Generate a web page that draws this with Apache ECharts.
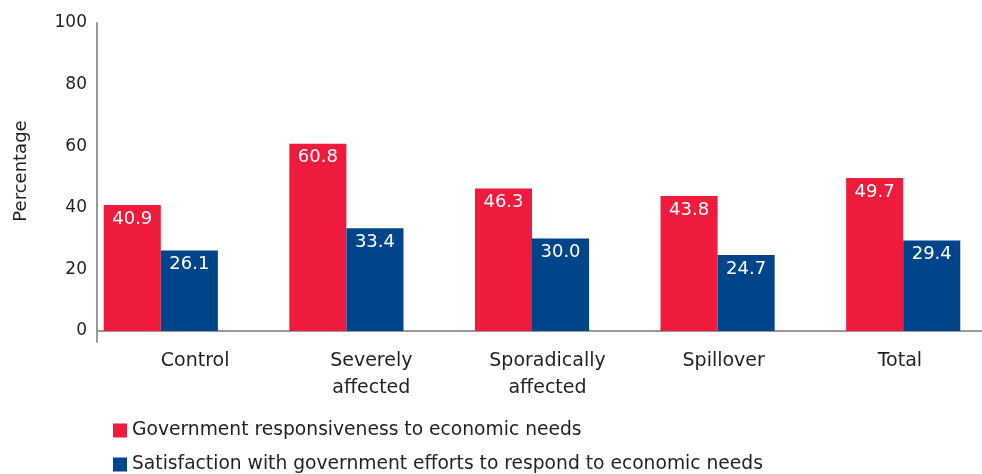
<!DOCTYPE html>
<html><head><meta charset="utf-8">
<script src="https://cdn.jsdelivr.net/npm/echarts@6/dist/echarts.min.js"></script>
<style>html,body{margin:0;padding:0;background:#fff}#c{width:982px;height:474px}</style>
</head><body><div id="c"></div>
<script>
const categories = ['Control', 'Severely\naffected', 'Sporadically\naffected', 'Spillover', 'Total'];
const seriesNames = ['Government responsiveness to economic needs', 'Satisfaction with government efforts to respond to economic needs'];
const responsiveness = [40.9, 60.8, 46.3, 43.8, 49.7];
const satisfaction = [26.1, 33.4, 30.0, 24.7, 29.4];
const yTicks = [0, 20, 40, 60, 80, 100];

const FONT = '"DejaVu Sans"';
const TXT = '#231f20';
const chart = echarts.init(document.getElementById('c'));
const lbl = {show: true, position: 'insideTop', distance: 5, color: '#fff', fontSize: 18, fontFamily: FONT, formatter: p => p.value.toFixed(1)};
const hiddenY = {type: 'value', show: false, min: 0, max: 100};
chart.setOption({
  animation: false,
  textStyle: {fontFamily: FONT},
  grid: [
    {left: 68, width: 928, top: 23, bottom: 143, outerBoundsMode: 'none', containLabel: false},
    {left: 97, right: 0, top: 23, bottom: 132, outerBoundsMode: 'none', containLabel: false},
    {left: 107, width: 881, top: 23, bottom: 143, outerBoundsMode: 'none', containLabel: false}
  ],
  xAxis: [
    {type: 'category', data: categories, gridIndex: 0,
     axisLine: {show: false}, axisTick: {show: false}, axisLabel: {show: false}},
    {type: 'value', gridIndex: 1, min: 0, max: 1,
     axisLine: {show: true, onZero: true, lineStyle: {color: '#999', width: 2}},
     axisTick: {show: false}, axisLabel: {show: false}, splitLine: {show: false}},
    {type: 'category', data: categories, gridIndex: 2,
     axisLine: {show: false}, axisTick: {show: false},
     axisLabel: {color: TXT, fontSize: 19, margin: 17, lineHeight: 27, fontFamily: FONT}}
  ],
  yAxis: [
    {type: 'value', gridIndex: 0, min: yTicks[0], max: yTicks[yTicks.length - 1], interval: 20, offset: -29,
     name: 'Percentage', nameLocation: 'middle', nameGap: 67, nameRotate: 90,
     nameTextStyle: {color: TXT, fontSize: 18, fontFamily: FONT, padding: [0, 0, 0, 12]},
     axisLine: {show: false}, axisTick: {show: false}, splitLine: {show: false},
     axisLabel: {color: TXT, fontSize: 17, margin: 10, fontFamily: FONT}},
    {type: 'value', gridIndex: 1, min: -3.57, max: 100,
     axisLine: {show: true, lineStyle: {color: '#999', width: 2}},
     axisTick: {show: false}, axisLabel: {show: false}, splitLine: {show: false}},
    Object.assign({gridIndex: 2}, hiddenY)
  ],
  legend: {
    orient: 'vertical', left: 113, top: 421, bottom: 0, padding: 0, itemGap: 15,
    itemWidth: 14, itemHeight: 14, icon: 'rect',
    textStyle: {color: TXT, fontSize: 18.7, fontFamily: FONT},
    data: seriesNames
  },
  series: [
    {name: seriesNames[0], type: 'bar', data: responsiveness, xAxisIndex: 0, yAxisIndex: 0,
     itemStyle: {color: '#ee1b3c'}, barGap: '0%', barCategoryGap: '38.5%', label: lbl},
    {name: seriesNames[1], type: 'bar', data: satisfaction, xAxisIndex: 0, yAxisIndex: 0,
     itemStyle: {color: '#00448a'}, barGap: '0%', barCategoryGap: '38.5%', label: lbl}
  ]
});
</script></body></html>
